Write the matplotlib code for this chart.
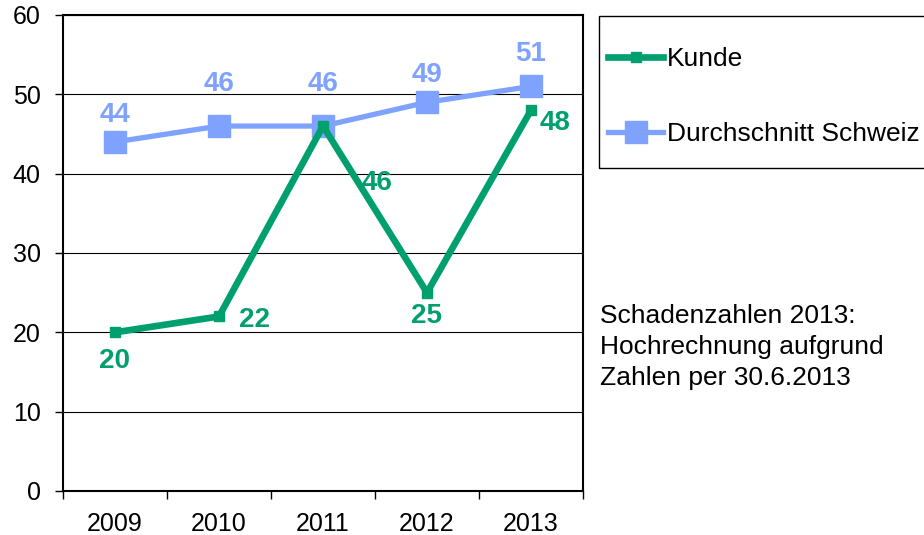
import matplotlib
matplotlib.use("Agg")
import matplotlib.pyplot as plt
from matplotlib.lines import Line2D
from matplotlib.patches import Rectangle

years = ["2009", "2010", "2011", "2012", "2013"]
kunde = [20, 22, 46, 25, 48]
schweiz = [44, 46, 46, 49, 51]
series_names = ["Kunde", "Durchschnitt Schweiz"]
note = "Schadenzahlen 2013:\nHochrechnung aufgrund\nZahlen per 30.6.2013"

green = "#00A06E"
blue = "#7FA2FF"

plt.rcParams['font.family'] = ['Liberation Sans', 'DejaVu Sans']

W, H = 924, 535
fig = plt.figure(figsize=(W/100, H/100), dpi=100)
ax = fig.add_axes([63/W, 1-491/H, (583-63)/W, (491-15)/H])

x = list(range(len(years)))
ax.plot(x, schweiz, color=blue, lw=3.8, marker="s", ms=15.5, zorder=3)
ax.plot(x, kunde, color=green, lw=4.8, marker="s", ms=7.5, zorder=4)

ax.set_xlim(-0.5, 4.5)
ax.set_ylim(0, 60)
ax.set_yticks(range(0, 61, 10))
ax.set_xticks(x)
ax.set_xticklabels(years)
ax.set_xticks([i - 0.5 for i in range(len(years) + 1)], minor=True)
ax.tick_params(axis="x", which="major", length=0, labelsize=18, pad=15)
ax.tick_params(axis="x", which="minor", length=6, width=1, direction="out")
ax.tick_params(axis="y", length=6, width=1, direction="out", labelsize=18, pad=10)
ax.grid(axis="y", color="black", lw=0.8)
ax.set_axisbelow(True)
for s in ax.spines.values():
    s.set_linewidth(1.5)

px = 0.72  # pixels -> points
# data labels (offsets in pixels: dx, dy downward)
b_off = [(0, -27), (0, -42), (0, -42), (0, -27), (0, -32)]
for i, v in enumerate(schweiz):
    dx, dy = b_off[i]
    ax.annotate(str(v), (i, v), xytext=(dx*px, -dy*px), textcoords="offset points",
                ha="center", va="center", color=blue, fontsize=20, fontweight="bold")
k_off = [(0, 29), (36, 4), (54, 57), (0, 23), (24, 13)]
for i, v in enumerate(kunde):
    dx, dy = k_off[i]
    ax.annotate(str(v), (i, v), xytext=(dx*px, -dy*px), textcoords="offset points",
                ha="center", va="center", color=green, fontsize=20, fontweight="bold")

# legend
fig.patches.append(Rectangle((599/W, 1-168/H), 340/W, 152/H, transform=fig.transFigure,
                             fill=False, edgecolor="black", lw=1))
handles = [Line2D([], [], color=green, lw=4.8, marker="s", ms=7.5),
           Line2D([], [], color=blue, lw=3.8, marker="s", ms=15.5)]
leg = fig.legend(handles, series_names, loc="upper left",
                 bbox_to_anchor=(608/W, 1-47/H), frameon=False, fontsize=19,
                 handlelength=2.1, handletextpad=0.12, labelspacing=1.95,
                 borderpad=0, borderaxespad=0)

fig.text(600/W, 1-304/H, note, ha="left", va="top", fontsize=19, linespacing=1.38)

fig.savefig("out.png", dpi=100)
